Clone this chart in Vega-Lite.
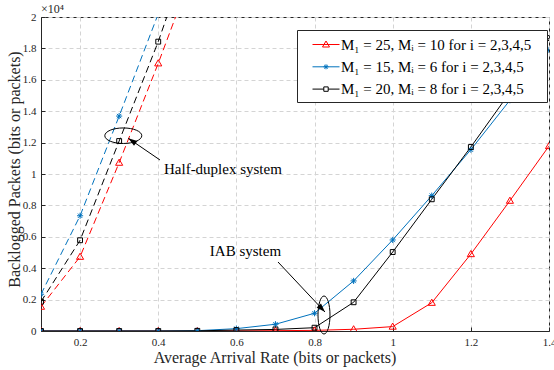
{
  "$schema": "https://vega.github.io/schema/vega-lite/v6.json",
  "width": 508,
  "height": 314,
  "autosize": "none",
  "padding": {"left": 41, "top": 17, "right": 5, "bottom": 39},
  "config": {
    "font": "Liberation Serif",
    "view": {"stroke": "#262626", "strokeWidth": 1},
    "axis": {
      "labelFont": "Liberation Serif",
      "titleFont": "Liberation Serif",
      "labelColor": "#262626",
      "titleColor": "#262626",
      "labelFontSize": 11,
      "titleFontSize": 16,
      "titleFontWeight": "normal",
      "domainColor": "#262626",
      "tickColor": "#262626",
      "gridColor": "#d4d4d4",
      "gridDash": [4, 3],
      "tickSize": -4,
      "labelOverlap": false,
      "labelFlush": false
    },
    "legend": {
      "orient": "none",
      "legendX": 256,
      "legendY": 13,
      "title": null,
      "strokeColor": "#262626",
      "fillColor": "white",
      "padding": 4,
      "labelFont": "Liberation Serif",
      "labelFontSize": 15,
      "labelColor": "#000000",
      "labelLimit": 0,
      "symbolSize": 400,
      "labelOffset": 19,
      "rowPadding": 3.3
    }
  },
  "data": {
    "values": [
      {"x": 0.1, "y": 1550, "s": "M₁ = 25, Mᵢ = 10 for i = 2,3,4,5", "sys": "HD"},
      {"x": 0.2, "y": 4730, "s": "M₁ = 25, Mᵢ = 10 for i = 2,3,4,5", "sys": "HD"},
      {"x": 0.3, "y": 10720, "s": "M₁ = 25, Mᵢ = 10 for i = 2,3,4,5", "sys": "HD"},
      {"x": 0.4, "y": 17050, "s": "M₁ = 25, Mᵢ = 10 for i = 2,3,4,5", "sys": "HD"},
      {"x": 0.5, "y": 23700, "s": "M₁ = 25, Mᵢ = 10 for i = 2,3,4,5", "sys": "HD"},
      {"x": 0.1, "y": 2340, "s": "M₁ = 15, Mᵢ = 6 for i = 2,3,4,5", "sys": "HD"},
      {"x": 0.2, "y": 7340, "s": "M₁ = 15, Mᵢ = 6 for i = 2,3,4,5", "sys": "HD"},
      {"x": 0.3, "y": 13690, "s": "M₁ = 15, Mᵢ = 6 for i = 2,3,4,5", "sys": "HD"},
      {"x": 0.4, "y": 20200, "s": "M₁ = 15, Mᵢ = 6 for i = 2,3,4,5", "sys": "HD"},
      {"x": 0.1, "y": 1870, "s": "M₁ = 20, Mᵢ = 8 for i = 2,3,4,5", "sys": "HD"},
      {"x": 0.2, "y": 5780, "s": "M₁ = 20, Mᵢ = 8 for i = 2,3,4,5", "sys": "HD"},
      {"x": 0.3, "y": 12100, "s": "M₁ = 20, Mᵢ = 8 for i = 2,3,4,5", "sys": "HD"},
      {"x": 0.4, "y": 18430, "s": "M₁ = 20, Mᵢ = 8 for i = 2,3,4,5", "sys": "HD"},
      {"x": 0.5, "y": 25600, "s": "M₁ = 20, Mᵢ = 8 for i = 2,3,4,5", "sys": "HD"},

      {"x": 0.1, "y": 0, "s": "M₁ = 25, Mᵢ = 10 for i = 2,3,4,5", "sys": "IAB"},
      {"x": 0.2, "y": 0, "s": "M₁ = 25, Mᵢ = 10 for i = 2,3,4,5", "sys": "IAB"},
      {"x": 0.3, "y": 0, "s": "M₁ = 25, Mᵢ = 10 for i = 2,3,4,5", "sys": "IAB"},
      {"x": 0.4, "y": 0, "s": "M₁ = 25, Mᵢ = 10 for i = 2,3,4,5", "sys": "IAB"},
      {"x": 0.5, "y": 0, "s": "M₁ = 25, Mᵢ = 10 for i = 2,3,4,5", "sys": "IAB"},
      {"x": 0.6, "y": 10, "s": "M₁ = 25, Mᵢ = 10 for i = 2,3,4,5", "sys": "IAB"},
      {"x": 0.7, "y": 20, "s": "M₁ = 25, Mᵢ = 10 for i = 2,3,4,5", "sys": "IAB"},
      {"x": 0.8, "y": 40, "s": "M₁ = 25, Mᵢ = 10 for i = 2,3,4,5", "sys": "IAB"},
      {"x": 0.9, "y": 110, "s": "M₁ = 25, Mᵢ = 10 for i = 2,3,4,5", "sys": "IAB"},
      {"x": 1.0, "y": 280, "s": "M₁ = 25, Mᵢ = 10 for i = 2,3,4,5", "sys": "IAB"},
      {"x": 1.1, "y": 1800, "s": "M₁ = 25, Mᵢ = 10 for i = 2,3,4,5", "sys": "IAB"},
      {"x": 1.2, "y": 4900, "s": "M₁ = 25, Mᵢ = 10 for i = 2,3,4,5", "sys": "IAB"},
      {"x": 1.3, "y": 8300, "s": "M₁ = 25, Mᵢ = 10 for i = 2,3,4,5", "sys": "IAB"},
      {"x": 1.4, "y": 11780, "s": "M₁ = 25, Mᵢ = 10 for i = 2,3,4,5", "sys": "IAB"},

      {"x": 0.1, "y": 0, "s": "M₁ = 15, Mᵢ = 6 for i = 2,3,4,5", "sys": "IAB"},
      {"x": 0.2, "y": 0, "s": "M₁ = 15, Mᵢ = 6 for i = 2,3,4,5", "sys": "IAB"},
      {"x": 0.3, "y": 0, "s": "M₁ = 15, Mᵢ = 6 for i = 2,3,4,5", "sys": "IAB"},
      {"x": 0.4, "y": 0, "s": "M₁ = 15, Mᵢ = 6 for i = 2,3,4,5", "sys": "IAB"},
      {"x": 0.5, "y": 20, "s": "M₁ = 15, Mᵢ = 6 for i = 2,3,4,5", "sys": "IAB"},
      {"x": 0.6, "y": 150, "s": "M₁ = 15, Mᵢ = 6 for i = 2,3,4,5", "sys": "IAB"},
      {"x": 0.7, "y": 430, "s": "M₁ = 15, Mᵢ = 6 for i = 2,3,4,5", "sys": "IAB"},
      {"x": 0.8, "y": 1130, "s": "M₁ = 15, Mᵢ = 6 for i = 2,3,4,5", "sys": "IAB"},
      {"x": 0.9, "y": 3190, "s": "M₁ = 15, Mᵢ = 6 for i = 2,3,4,5", "sys": "IAB"},
      {"x": 1.0, "y": 5800, "s": "M₁ = 15, Mᵢ = 6 for i = 2,3,4,5", "sys": "IAB"},
      {"x": 1.1, "y": 8620, "s": "M₁ = 15, Mᵢ = 6 for i = 2,3,4,5", "sys": "IAB"},
      {"x": 1.2, "y": 11550, "s": "M₁ = 15, Mᵢ = 6 for i = 2,3,4,5", "sys": "IAB"},
      {"x": 1.3, "y": 14700, "s": "M₁ = 15, Mᵢ = 6 for i = 2,3,4,5", "sys": "IAB"},
      {"x": 1.4, "y": 17900, "s": "M₁ = 15, Mᵢ = 6 for i = 2,3,4,5", "sys": "IAB"},

      {"x": 0.1, "y": 0, "s": "M₁ = 20, Mᵢ = 8 for i = 2,3,4,5", "sys": "IAB"},
      {"x": 0.2, "y": 0, "s": "M₁ = 20, Mᵢ = 8 for i = 2,3,4,5", "sys": "IAB"},
      {"x": 0.3, "y": 0, "s": "M₁ = 20, Mᵢ = 8 for i = 2,3,4,5", "sys": "IAB"},
      {"x": 0.4, "y": 0, "s": "M₁ = 20, Mᵢ = 8 for i = 2,3,4,5", "sys": "IAB"},
      {"x": 0.5, "y": 10, "s": "M₁ = 20, Mᵢ = 8 for i = 2,3,4,5", "sys": "IAB"},
      {"x": 0.6, "y": 60, "s": "M₁ = 20, Mᵢ = 8 for i = 2,3,4,5", "sys": "IAB"},
      {"x": 0.7, "y": 100, "s": "M₁ = 20, Mᵢ = 8 for i = 2,3,4,5", "sys": "IAB"},
      {"x": 0.8, "y": 210, "s": "M₁ = 20, Mᵢ = 8 for i = 2,3,4,5", "sys": "IAB"},
      {"x": 0.9, "y": 1830, "s": "M₁ = 20, Mᵢ = 8 for i = 2,3,4,5", "sys": "IAB"},
      {"x": 1.0, "y": 5030, "s": "M₁ = 20, Mᵢ = 8 for i = 2,3,4,5", "sys": "IAB"},
      {"x": 1.1, "y": 8390, "s": "M₁ = 20, Mᵢ = 8 for i = 2,3,4,5", "sys": "IAB"},
      {"x": 1.2, "y": 11720, "s": "M₁ = 20, Mᵢ = 8 for i = 2,3,4,5", "sys": "IAB"},
      {"x": 1.3, "y": 15200, "s": "M₁ = 20, Mᵢ = 8 for i = 2,3,4,5", "sys": "IAB"},
      {"x": 1.4, "y": 18660, "s": "M₁ = 20, Mᵢ = 8 for i = 2,3,4,5", "sys": "IAB"}
    ]
  },
  "layer": [
    {
      "transform": [{"filter": "datum.sys === 'HD'"}],
      "mark": {"type": "line", "strokeDash": [7, 4], "strokeWidth": 1, "clip": true},
      "encoding": {
        "x": {
          "field": "x", "type": "quantitative",
          "scale": {"domain": [0.1, 1.4], "nice": false, "zero": false},
          "axis": {
            "values": [0.2, 0.4, 0.6, 0.8, 1, 1.2, 1.4],
            "tickCount": 20,
            "format": ".1~f",
            "title": "Average Arrival Rate (bits or packets)",
            "grid": true,
            "labelPadding": 9,
            "titlePadding": 2,
            "titleX": 233.5
          }
        },
        "y": {
          "field": "y", "type": "quantitative",
          "scale": {"domain": [0, 20000], "nice": false},
          "axis": {
            "values": [0, 2000, 4000, 6000, 8000, 10000, 12000, 14000, 16000, 18000, 20000],
            "tickCount": 20,
            "labelExpr": "format(datum.value/10000, '.1~f')",
            "title": "Backlogged Packets (bits or packets)",
            "grid": true,
            "labelPadding": 9,
            "titlePadding": 0,
            "titleY": 152
          }
        },
        "color": {
          "field": "s", "type": "nominal",
          "scale": {
            "domain": ["M₁ = 25, Mᵢ = 10 for i = 2,3,4,5", "M₁ = 15, Mᵢ = 6 for i = 2,3,4,5", "M₁ = 20, Mᵢ = 8 for i = 2,3,4,5"],
            "range": ["#ff0000", "#0072bd", "#000000"]
          },
          "legend": {
            "labelExpr": "datum.label + '\u2800'",
            "encode": {
              "symbols": {
                "update": {
                  "shape": {"signal": "datum.index === 0 ? 'M0.1,0H2.8M1.45,-0.35L1.8,0.25L1.1,0.25Z' : datum.index === 1 ? 'M0.1,0H2.8M1.2,0H1.7M1.45,-0.25V0.25M1.27,-0.18L1.63,0.18M1.27,0.18L1.63,-0.18' : 'M0.1,0H1.23M1.67,0H2.8M1.23,-0.22H1.67V0.22H1.23Z'"},
                  "fill": {"value": "transparent"},
                  "strokeWidth": {"value": 1},
                  "strokeDash": {"value": []}
                }
              }
            }
          }
        }
      }
    },
    {
      "transform": [{"filter": "datum.sys === 'IAB'"}],
      "mark": {"type": "line", "strokeWidth": 1, "clip": true},
      "encoding": {
        "x": {"field": "x", "type": "quantitative"},
        "y": {"field": "y", "type": "quantitative"},
        "color": {
          "field": "s", "type": "nominal",
          "legend": {
            "labelExpr": "datum.label + '\u2800'",
            "encode": {
              "symbols": {
                "update": {
                  "shape": {"signal": "datum.index === 0 ? 'M0.1,0H2.8M1.45,-0.35L1.8,0.25L1.1,0.25Z' : datum.index === 1 ? 'M0.1,0H2.8M1.2,0H1.7M1.45,-0.25V0.25M1.27,-0.18L1.63,0.18M1.27,0.18L1.63,-0.18' : 'M0.1,0H1.23M1.67,0H2.8M1.23,-0.22H1.67V0.22H1.23Z'"},
                  "fill": {"value": "transparent"},
                  "strokeWidth": {"value": 1},
                  "strokeDash": {"value": []}
                }
              }
            }
          }
        }
      }
    },
    {
      "transform": [{"filter": "datum.s === 'M₁ = 25, Mᵢ = 10 for i = 2,3,4,5'"}],
      "mark": {"type": "point", "filled": false, "size": 42, "strokeWidth": 1, "clip": true, "opacity": 1, "color": "#ff0000", "shape": "M0,-1.1L1.1,0.8L-1.1,0.8Z"},
      "encoding": {
        "x": {"field": "x", "type": "quantitative"},
        "y": {"field": "y", "type": "quantitative"}
      }
    },
    {
      "transform": [{"filter": "datum.s === 'M₁ = 15, Mᵢ = 6 for i = 2,3,4,5'"}],
      "mark": {"type": "point", "filled": false, "size": 42, "strokeWidth": 1, "clip": true, "opacity": 1, "color": "#0072bd", "shape": "M-0.95,0H0.95M0,-0.95V0.95M-0.67,-0.67L0.67,0.67M-0.67,0.67L0.67,-0.67"},
      "encoding": {
        "x": {"field": "x", "type": "quantitative"},
        "y": {"field": "y", "type": "quantitative"}
      }
    },
    {
      "transform": [{"filter": "datum.s === 'M₁ = 20, Mᵢ = 8 for i = 2,3,4,5'"}],
      "mark": {"type": "point", "filled": false, "size": 42, "strokeWidth": 1, "clip": true, "opacity": 1, "color": "#000000", "shape": "M-0.75,-0.75H0.75V0.75H-0.75Z"},
      "encoding": {
        "x": {"field": "x", "type": "quantitative"},
        "y": {"field": "y", "type": "quantitative"}
      }
    },
    {
      "data": {"values": [{"x": 0.4147, "y": 10299, "t": "Half-duplex system"}]},
      "mark": {"type": "text", "align": "left", "baseline": "middle", "fontSize": 15, "font": "Liberation Serif", "color": "#000000"},
      "encoding": {
        "x": {"field": "x", "type": "quantitative"},
        "y": {"field": "y", "type": "quantitative"},
        "text": {"field": "t"}
      }
    },
    {
      "data": {"values": [{"x": 0.6233, "y": 5115, "t": "IAB system"}]},
      "mark": {"type": "text", "align": "center", "baseline": "middle", "fontSize": 15, "font": "Liberation Serif", "color": "#000000"},
      "encoding": {
        "x": {"field": "x", "type": "quantitative"},
        "y": {"field": "y", "type": "quantitative"},
        "text": {"field": "t"}
      }
    },
    {
      "data": {"values": [{"x": 0.1, "y": 20000, "t": "×10⁴"}]},
      "mark": {"type": "text", "align": "left", "baseline": "bottom", "dy": -1, "fontSize": 12, "font": "Liberation Serif", "color": "#262626"},
      "encoding": {
        "x": {"field": "x", "type": "quantitative"},
        "y": {"field": "y", "type": "quantitative"},
        "text": {"field": "t"}
      }
    },
    {
      "data": {"values": [
        {"x": 0.4045, "y": 10892, "x2": 0.3234, "y2": 12274},
        {"x": 0.7065, "y": 4395, "x2": 0.8267, "y2": 1210}
      ]},
      "mark": {"type": "rule", "color": "#000000", "strokeWidth": 1},
      "encoding": {
        "x": {"field": "x", "type": "quantitative"},
        "y": {"field": "y", "type": "quantitative"},
        "x2": {"field": "x2"},
        "y2": {"field": "y2"}
      }
    },
    {
      "data": {"values": [{"x": 0.3234, "y": 12274}]},
      "mark": {"type": "point", "shape": "M0,0L0.4,1.2L-0.4,1.2Z", "size": 225, "filled": true, "color": "#000000", "opacity": 1, "angle": 304.4},
      "encoding": {
        "x": {"field": "x", "type": "quantitative"},
        "y": {"field": "y", "type": "quantitative"}
      }
    },
    {
      "data": {"values": [{"x": 0.8267, "y": 1210}]},
      "mark": {"type": "point", "shape": "M0,0L0.4,1.2L-0.4,1.2Z", "size": 225, "filled": true, "color": "#000000", "opacity": 1, "angle": 136.8},
      "encoding": {
        "x": {"field": "x", "type": "quantitative"},
        "y": {"field": "y", "type": "quantitative"}
      }
    },
    {
      "data": {"values": [{"x": 0.3106, "y": 12439}]},
      "mark": {"type": "point", "shape": "M-1,0C-1,-0.232 -0.552,-0.42 0,-0.42C0.552,-0.42 1,-0.232 1,0C1,0.232 0.552,0.42 0,0.42C-0.552,0.42 -1,0.232 -1,0Z", "size": 1369, "filled": false, "color": "#000000", "strokeWidth": 1, "opacity": 1},
      "encoding": {
        "x": {"field": "x", "type": "quantitative"},
        "y": {"field": "y", "type": "quantitative"}
      }
    },
    {
      "data": {"values": [{"x": 0.8242, "y": 1019}]},
      "mark": {"type": "point", "shape": "M0,-1C0.1745,-1 0.316,-0.552 0.316,0C0.316,0.552 0.1745,1 0,1C-0.1745,1 -0.316,0.552 -0.316,0C-0.316,-0.552 -0.1745,-1 0,-1Z", "size": 1444, "filled": false, "color": "#000000", "strokeWidth": 1, "opacity": 1},
      "encoding": {
        "x": {"field": "x", "type": "quantitative"},
        "y": {"field": "y", "type": "quantitative"}
      }
    }
  ]
}
